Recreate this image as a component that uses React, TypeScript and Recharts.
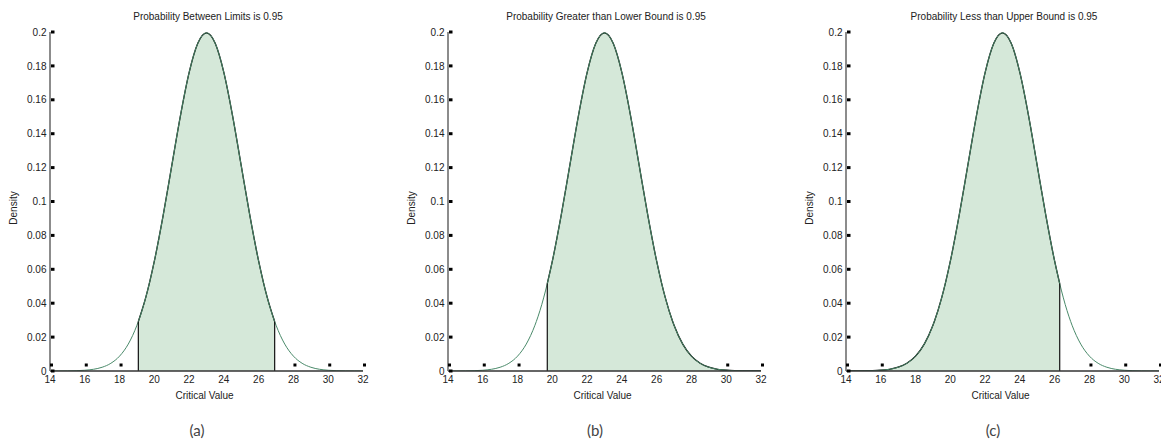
import React from 'react';
import { ComposedChart, Line, Area, XAxis, YAxis, ReferenceLine } from 'recharts';

// x positions (critical values) and the density
const xValues = [
  14, 14.5, 15, 15.5, 16, 16.5, 17, 17.5, 18, 18.5, 19, 19.08, 19.5, 19.71, 20, 20.5, 21, 21.5, 22, 22.5,
  23, 23.5, 24, 24.5, 25, 25.5, 26, 26.29, 26.5, 26.92, 27, 27.5, 28, 28.5, 29, 29.5, 30, 30.5, 31, 31.5, 32,
];
const densityValues = [
  0.000008, 0.000024, 0.000067, 0.000176, 0.000436, 0.00101, 0.00222, 0.00455, 0.00876, 0.01587, 0.027,
  0.02922, 0.04314, 0.05156, 0.06476, 0.09132, 0.12099, 0.15057, 0.17603, 0.19333, 0.19947, 0.19333, 0.17603,
  0.15057, 0.12099, 0.09132, 0.06476, 0.05156, 0.04314, 0.02922, 0.027, 0.01587, 0.00876, 0.00455, 0.00222,
  0.00101, 0.000436, 0.000176, 0.000067, 0.000024, 0.000008,
];
const xTicks = [14, 16, 18, 20, 22, 24, 26, 28, 30, 32];
const yTicks = [0, 0.02, 0.04, 0.06, 0.08, 0.1, 0.12, 0.14, 0.16, 0.18, 0.2];
const yTickLabels = ['0', '0.02', '0.04', '0.06', '0.08', '0.1', '0.12', '0.14', '0.16', '0.18', '0.2'];
const titles = [
  'Probability Between Limits is 0.95',
  'Probability Greater than Lower Bound is 0.95',
  'Probability Less than Upper Bound is 0.95',
];
const captions = ['(a)', '(b)', '(c)'];
const lowerBounds = [19.08, 19.71, 14];
const upperBounds = [26.92, 32, 26.29];
const xLabel = 'Critical Value';
const yLabel = 'Density';

const FONT = '"Liberation Sans", Arial, sans-serif';
const X_MIN = 14;
const X_MAX = 32;
const PANEL_OFFSETS = [0, 398, 796];
const PLOT_LEFT = 50;
const PLOT_RIGHT = 363;
// tick marks sit a few pixels above the axis; they are hidden where the shaded area covers them
const TICK_COVER_DENSITY = 0.003;

const XTick = (props: any) => {
  const { x, y, payload, lo, hi } = props;
  const v = payload.value;
  const i = xValues.indexOf(v);
  const covered = v >= lo && v <= hi && i >= 0 && densityValues[i] > TICK_COVER_DENSITY;
  return (
    <g>
      {!covered && <rect x={x} y={y - 7.5} width={3} height={3} fill="#000" />}
      <text x={x} y={y + 12} textAnchor="middle" fontSize={10} fontFamily={FONT} fill="#222">
        {String(v)}
      </text>
    </g>
  );
};

const YTick = (props: any) => {
  const { x, y, payload } = props;
  const idx = yTicks.indexOf(payload.value);
  return (
    <g>
      <rect x={x + 1} y={y - 1.5} width={3.5} height={3} fill="#000" />
      <text x={x - 3.5} y={y + 3.6} textAnchor="end" fontSize={10} fontFamily={FONT} fill="#222">
        {idx >= 0 ? yTickLabels[idx] : String(payload.value)}
      </text>
    </g>
  );
};

function Panel({ index }: { index: number }) {
  const lo = lowerBounds[index];
  const hi = upperBounds[index];
  const data = xValues.map((x, i) => ({
    x,
    d: densityValues[i],
    s: x >= lo - 1e-9 && x <= hi + 1e-9 ? densityValues[i] : null,
  }));
  const edges = [lo, hi].filter((b) => b > X_MIN && b < X_MAX);
  return (
    <ComposedChart
      width={400}
      height={443}
      data={data}
      margin={{ top: 32, right: 37, bottom: 42, left: 10 }}
    >
      <XAxis
        dataKey="x"
        type="number"
        domain={[X_MIN, X_MAX]}
        ticks={xTicks}
        interval={0}
        allowDataOverflow
        height={30}
        tickLine={false}
        tickSize={0}
        tickMargin={0}
        tick={(p: any) => <XTick {...p} lo={lo} hi={hi} />}
        axisLine={{ stroke: '#333', strokeWidth: 1.5 }}
      />
      <YAxis
        type="number"
        domain={[0, 0.2]}
        ticks={yTicks}
        interval={0}
        allowDataOverflow
        width={40}
        tickLine={false}
        tickSize={0}
        tickMargin={0}
        tick={<YTick />}
        axisLine={{ stroke: '#666', strokeWidth: 1.5 }}
      />
      <Line
        dataKey="d"
        type="monotone"
        stroke="#4a8a6a"
        strokeWidth={1}
        dot={false}
        activeDot={false}
        isAnimationActive={false}
      />
      <Area
        dataKey="s"
        type="monotone"
        stroke="#000"
        strokeWidth={1.3}
        fill="#d5e8d9"
        fillOpacity={1}
        connectNulls={false}
        dot={false}
        activeDot={false}
        isAnimationActive={false}
      />
      {edges.map((b) => {
        const i = xValues.indexOf(b);
        return (
          <ReferenceLine
            key={b}
            segment={[
              { x: b, y: 0 },
              { x: b, y: densityValues[i] },
            ]}
            stroke="#111"
            strokeWidth={1.2}
          />
        );
      })}
    </ComposedChart>
  );
}

export default function App() {
  return (
    <div
      style={{
        position: 'absolute',
        left: 0,
        top: 0,
        width: 1161,
        height: 443,
        overflow: 'hidden',
        background: '#fff',
      }}
    >
      {PANEL_OFFSETS.map((off, i) => (
        <div key={i} style={{ position: 'absolute', left: off, top: 0 }}>
          <Panel index={i} />
        </div>
      ))}
      <svg
        width={1161}
        height={443}
        style={{ position: 'absolute', left: 0, top: 0, pointerEvents: 'none' }}
      >
        {PANEL_OFFSETS.map((off, i) => {
          const cx = off + (PLOT_LEFT + PLOT_RIGHT) / 2;
          return (
            <g key={i}>
              <text x={cx + 1.5} y={20} textAnchor="middle" fontSize={10} fontFamily={FONT} fill="#222">
                {titles[i]}
              </text>
              <text x={cx - 2} y={399} textAnchor="middle" fontSize={10} fontFamily={FONT} fill="#222">
                {xLabel}
              </text>
              <text
                transform={`translate(${off + 17},${208}) rotate(-90)`}
                textAnchor="middle"
                fontSize={10}
                fontFamily={FONT}
                fill="#222"
              >
                {yLabel}
              </text>
              <text
                x={off + 197}
                y={436}
                textAnchor="middle"
                fontSize={15}
                fontFamily="Lato, 'Open Sans', sans-serif"
                fontWeight={400}
                fill="#444"
              >
                {captions[i]}
              </text>
            </g>
          );
        })}
      </svg>
    </div>
  );
}
